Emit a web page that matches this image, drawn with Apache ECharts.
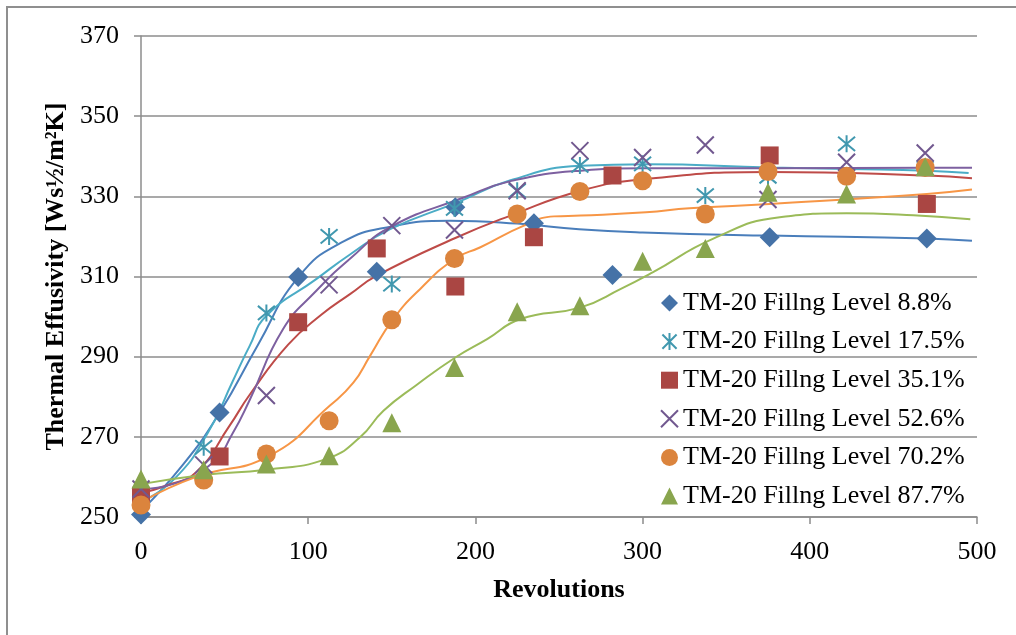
<!DOCTYPE html>
<html>
<head>
<meta charset="utf-8">
<script src="https://cdn.jsdelivr.net/npm/echarts@6/dist/echarts.min.js"></script>
<style>
html, body { margin: 0; padding: 0; background: #fff; overflow: hidden; }
#frame { position: absolute; left: 6px; top: 6px; width: 1200px; height: 800px; border: 2px solid #8f8f8f; }
#chart { position: absolute; left: 0; top: 0; width: 1016px; height: 635px; }
</style>
</head>
<body>
<div id="frame"></div>
<div id="chart"></div>
<script>
// revolutions at which each filling level was measured
var revsA = [0, 47, 94, 141, 188, 235, 282, 376, 470];
var revsB = [0, 37.5, 75, 112.5, 150, 187.5, 225, 262.5, 300, 337.5, 375, 422, 469];

// measured thermal effusivity
var lvl088 = [250.6, 276.1, 309.9, 311.2, 327.3, 323.3, 310.4, 319.8, 319.5];
var lvl175 = [254, 267.4, 300.9, 320, 308.1, 327, 331.4, 337.7, 338.1, 330.2, 335, 343.1, 337];
var lvl351 = [255.3, 265.1, 298.6, 317, 307.5, 319.8, 335.2, 340.2, 328.1];
var lvl526 = [257, 263, 280.3, 307.9, 322.7, 321.6, 331.4, 341.4, 339.7, 342.8, 329.2, 338.5, 340.8];
var lvl702 = [253, 259.2, 265.7, 274, 299.2, 314.5, 325.6, 331.2, 333.9, 325.6, 336.2, 335, 337.2];
var lvl877 = [259.5, 261.8, 263.2, 265.3, 273.5, 287.3, 301.2, 302.7, 313.8, 317, 331, 330.6, 337.4];

// trendlines
var fit088 = [[0,251.5],[25,263],[47,276],[70,293],[94,309.8],[120,318.5],[150,322.5],[185,323.9],[225,323.2],[262,321.8],[300,321],[376,320.2],[470,319.5],[497,318.9]];
var fit175 = [[0,253.7],[20,259.5],[40,271],[55,284],[65,292.7],[75,300.2],[105,309.4],[125,315.5],[149,321.8],[188,328.3],[221,334],[263,337.6],[302,338],[376,337.2],[423,336.8],[470,336.4],[495,335.8]];
var fit351 = [[0,256],[15,257.8],[33,261.2],[53,272.8],[65,280.5],[88,293],[108,300.5],[125,305.6],[141,310.2],[188,319.6],[221,325.2],[263,331.4],[302,334.3],[376,336.1],[470,335.2],[497,334.5]];
var fit526 = [[0,257],[19,258.2],[43,263.6],[55,271],[65,279.2],[85,296.9],[105,306.5],[125,314.4],[149,322.3],[193,329.7],[221,333.8],[263,336.4],[300,337],[376,337],[470,337.1],[497,337.1]];
var fit702 = [[0,253.7],[33,260],[77,265.3],[113,277.8],[127,283.5],[137,290.2],[150.5,299.2],[167,306.9],[188,314.5],[203,317.3],[229,322.7],[247,325],[263,325.2],[302,326],[328,327],[376,328.1],[470,330.6],[497,331.7]];
var fit877 = [[0,258.2],[37,260.5],[75,261.8],[111,264.5],[131,269.9],[145,276.5],[165,283],[188,289.8],[207,294.4],[227,299.4],[263,302.3],[287,306.9],[306,311],[342,319.4],[382,324.8],[422,325.8],[462,325.3],[496,324.3]];

var names = ['TM-20 Fillng Level 8.8%', 'TM-20 Fillng Level 17.5%', 'TM-20 Fillng Level 35.1%',
             'TM-20 Fillng Level 52.6%', 'TM-20 Fillng Level 70.2%', 'TM-20 Fillng Level 87.7%'];

var font = "'Liberation Serif', 'Times New Roman', serif";
var gridGray = '#8c8c8c';

function pts(xs, ys) {
    return xs.map(function (x, i) { return [x, ys[i]]; });
}

function markers(name, xs, ys, symbol, size, color, stroked) {
    return {
        name: name,
        type: 'scatter',
        data: pts(xs, ys),
        symbol: symbol,
        symbolSize: size,
        z: 3,
        itemStyle: stroked
            ? { color: 'rgba(0,0,0,0)', borderColor: color, borderWidth: 2, opacity: 1 }
            : { color: color, opacity: 1 }
    };
}

function trend(data, color) {
    return {
        type: 'line',
        data: data,
        smooth: true,
        showSymbol: false,
        silent: true,
        z: 2,
        lineStyle: { color: color, width: 2 }
    };
}

var xMark = 'path://M0,0L10,10M10,0L0,10';
var starMark = 'path://M0,0L10,10M10,0L0,10M5,-1L5,11';

var myChart = echarts.init(document.getElementById('chart'));

var option = {
    animation: false,
    grid: { left: 141, right: 39, top: 36, bottom: 118 },
    legend: {
        data: names,
        orient: 'vertical',
        left: 660,
        top: 289,
        itemWidth: 17,
        itemHeight: 17,
        itemGap: 10.6,
        padding: 0,
        textStyle: { fontFamily: font, fontSize: 26, color: '#000', lineHeight: 28 }
    },
    xAxis: {
        type: 'value',
        min: 0,
        max: 500,
        interval: 100,
        name: 'Revolutions',
        nameLocation: 'middle',
        nameGap: 60,
        nameTextStyle: { fontFamily: font, fontSize: 26, fontWeight: 'bold', color: '#000' },
        axisLine: { lineStyle: { color: gridGray, width: 1.5 } },
        axisTick: { show: true, length: 7, lineStyle: { color: gridGray, width: 1.5 } },
        axisLabel: { fontFamily: font, fontSize: 26, color: '#000', margin: 22 },
        splitLine: { show: false }
    },
    yAxis: {
        type: 'value',
        min: 250,
        max: 370,
        interval: 20,
        name: 'Thermal Effusivity [Ws½/m²K]',
        nameLocation: 'middle',
        nameGap: 70,
        nameTextStyle: { fontFamily: font, fontSize: 26, fontWeight: 'bold', color: '#000' },
        axisLine: { show: true, lineStyle: { color: gridGray, width: 1.5 } },
        axisTick: { show: true, length: 7, lineStyle: { color: gridGray, width: 1.5 } },
        axisLabel: { fontFamily: font, fontSize: 26, color: '#000', margin: 22 },
        splitLine: { show: true, lineStyle: { color: gridGray, width: 1.5 } }
    },
    series: [
        trend(fit088, '#4A7EBB'),
        trend(fit175, '#4BACC6'),
        trend(fit351, '#BE4B48'),
        trend(fit526, '#7D60A0'),
        trend(fit702, '#F79646'),
        trend(fit877, '#9BBB59'),
        markers(names[0], revsA, lvl088, 'diamond', 20, '#4572A7', false),
        markers(names[1], revsB, lvl175, starMark, 17, '#4198AF', true),
        markers(names[2], revsA, lvl351, 'rect', 18, '#AA4643', false),
        markers(names[3], revsB, lvl526, xMark, 17, '#71588F', true),
        markers(names[4], revsB, lvl702, 'circle', 19, '#DB843D', false),
        markers(names[5], revsB, lvl877, 'triangle', 19, '#89A54E', false)
    ]
};

myChart.setOption(option);
</script>
</body>
</html>
